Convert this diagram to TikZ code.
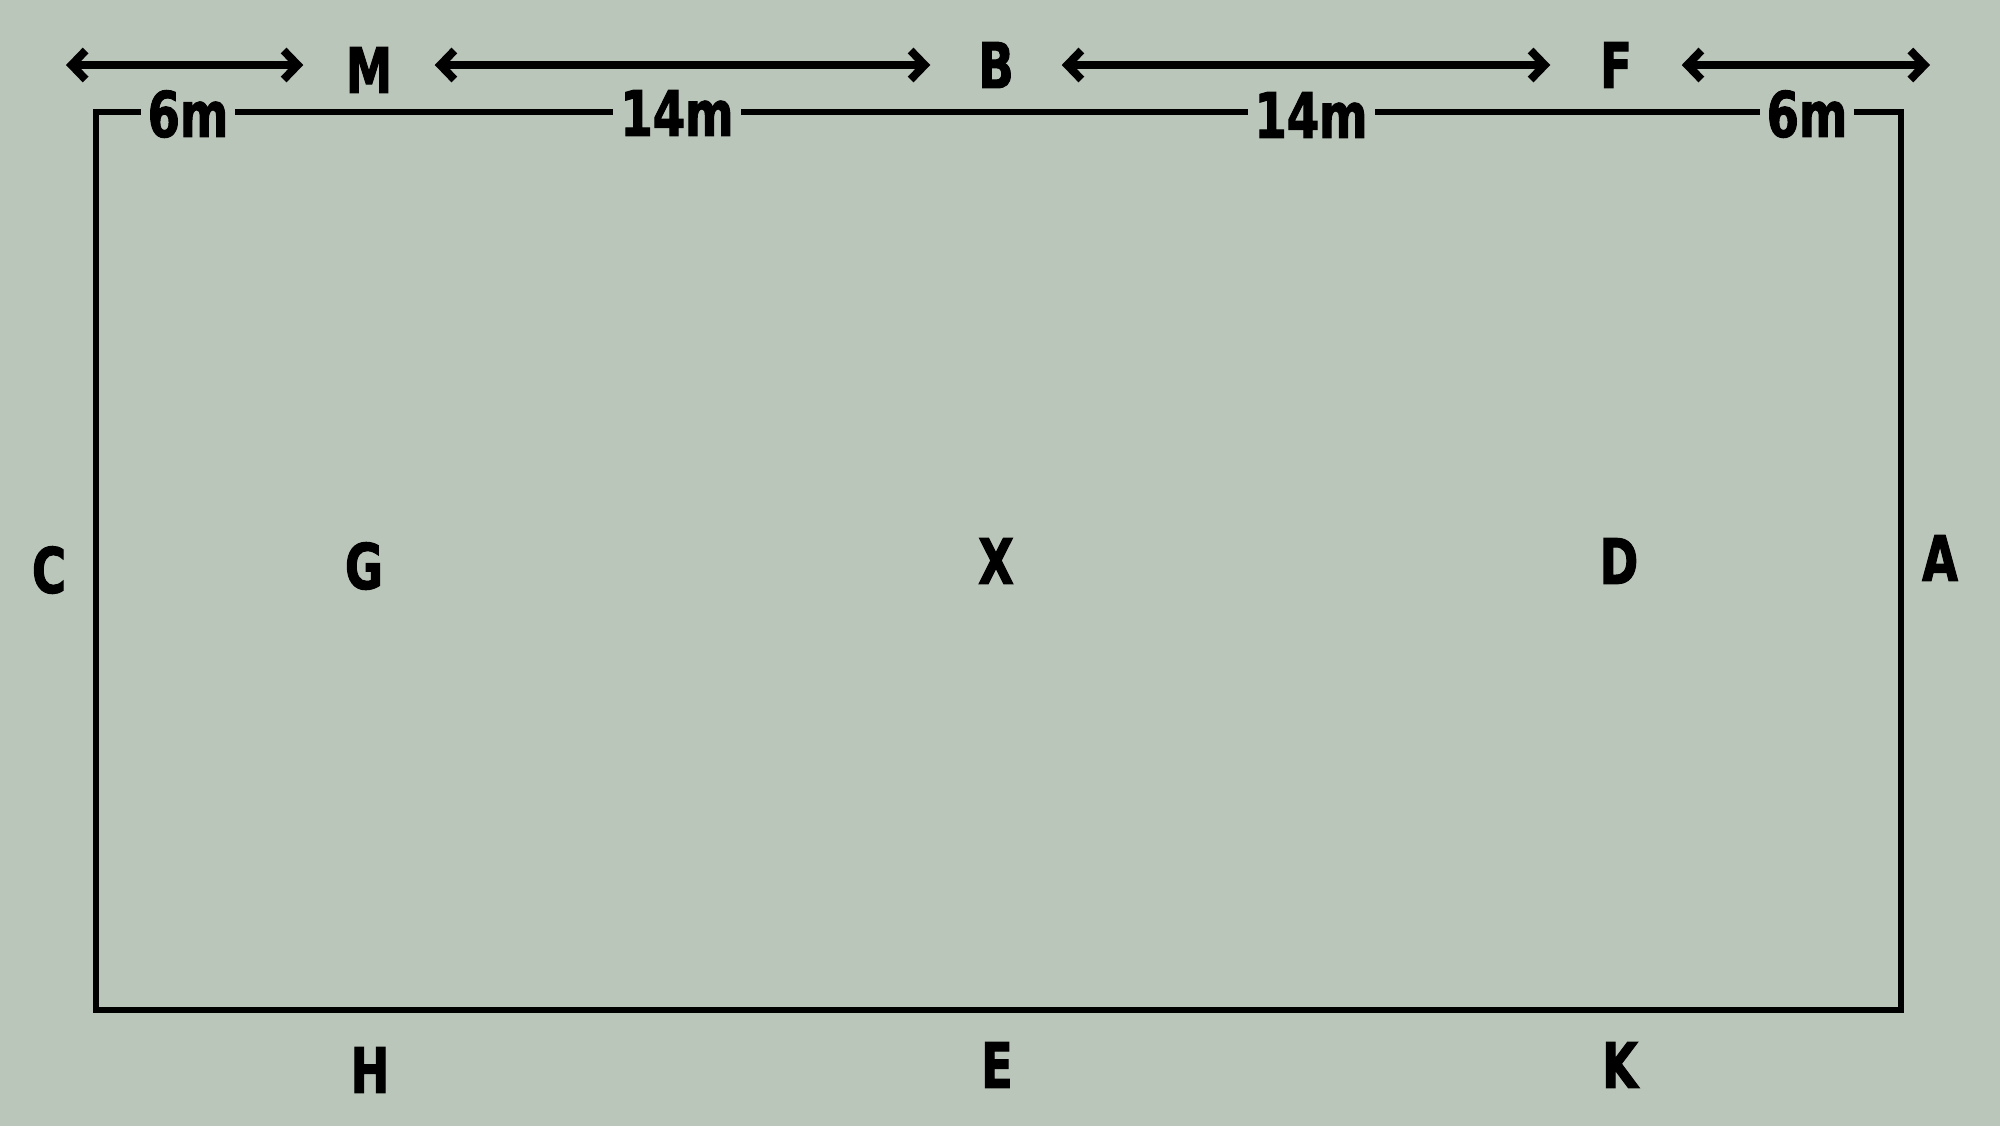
\documentclass[tikz,border=0pt]{standalone}
\usepackage{fontspec}
\usepackage{xcolor}
\usetikzlibrary{arrows.meta}
\newfontfamily\arenafont[FakeStretch=0.82, FakeBold=1.6]{DejaVu Sans Condensed Bold}
\definecolor{sage}{RGB}{187,198,186}

\begin{document}
\begin{tikzpicture}[x=0.01cm, y=-0.01cm,
        letter/.style={font=\arenafont\fontsize{17.9}{20}\selectfont, inner sep=0pt},
        topletter/.style={letter, minimum width=1.3cm},
        metre/.style={letter, fill=sage, inner xsep=0.07cm, inner ysep=0.05cm},
        spanarrow/.style={line width=2.3pt,
            {Straight Barb[length=1.4mm, width=2.9mm]}-{Straight Barb[length=1.4mm, width=2.9mm]}}]

        %BACKGROUND
        \fill[sage] (0,0) rectangle (2000,1126);
        \useasboundingbox (0,0) rectangle (2000,1126);

        %ARENA
        \draw[line width=1.95pt] (96,112) rectangle (1901,1010);

        %DISTANCES
        \node[metre] (sixl) at (188,114) {6m};
        \node[metre] (fourteenl) at (677,113) {14m};
        \node[metre] (fourteenr) at (1311,115) {14m};
        \node[metre] (sixr) at (1807,114) {6m};

        %LETTERS
        \node[topletter] (M) at (369,70) {M};
        \node[topletter] (B) at (996,65) {B};
        \node[topletter] (F) at (1616,65) {F};
        \node[letter] (C) at (49,570) {C};
        \node[letter] (G) at (364,566) {G};
        \node[letter] (X) at (996,561) {X};
        \node[letter] (D) at (1619,561) {D};
        \node[letter] (A) at (1940,558) {A};
        \node[letter] (H) at (370,1070) {H};
        \node[letter] (E) at (997,1065) {E};
        \node[letter] (K) at (1620,1065) {K};

        %ARROWS
        \coordinate (leftend) at (66,65);
        \coordinate (rightend) at (1930,65);
        \draw[spanarrow] (leftend) -- (leftend -| M.west);
        \draw[spanarrow] (M.east |- B) -- (B.west);
        \draw[spanarrow] (B.east) -- (F.west);
        \draw[spanarrow] (F.east) -- (rightend);
    \end{tikzpicture}
\end{document}
